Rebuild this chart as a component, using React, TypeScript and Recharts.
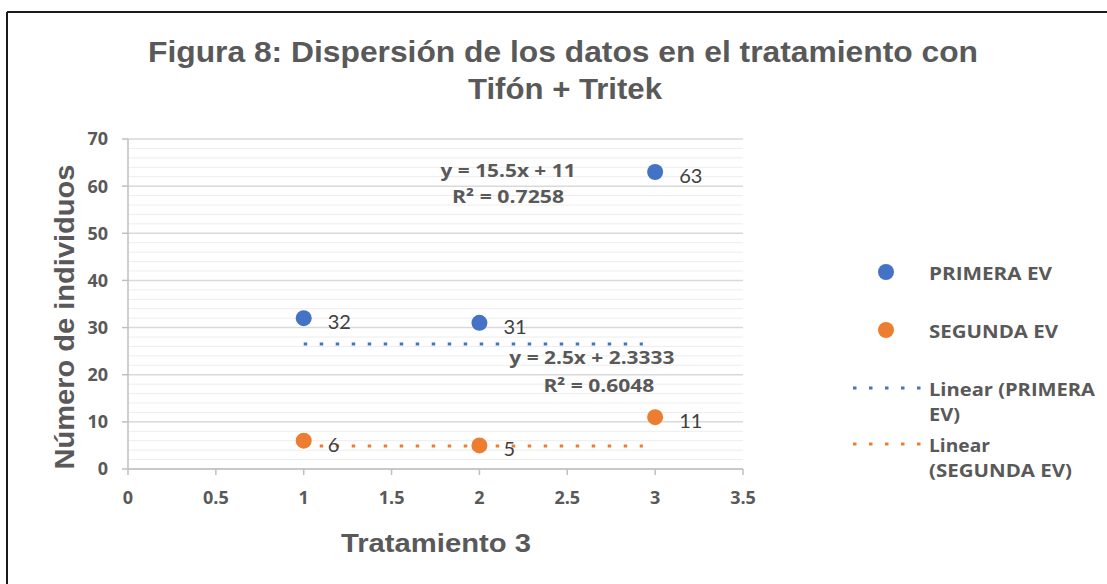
import React from "react";
import {
  ScatterChart,
  Scatter,
  XAxis,
  YAxis,
  CartesianGrid,
  ReferenceLine,
  LabelList,
} from "recharts";

const primera = [
  { x: 1, y: 32 },
  { x: 2, y: 31 },
  { x: 3, y: 63 },
];
const segunda = [
  { x: 1, y: 6 },
  { x: 2, y: 5 },
  { x: 3, y: 11 },
];
const trendPrimera = [
  { x: 1, y: 26.5 },
  { x: 2.93, y: 26.5 },
];
const trendSegunda = [
  { x: 1, y: 4.9 },
  { x: 2.93, y: 4.9 },
];
const equations = [
  { x: 2.163, y: 63.2, text: "y = 15.5x + 11", w: 135 },
  { x: 2.163, y: 57.6, text: "R² = 0.7258", w: 112 },
  { x: 2.64, y: 23.6, text: "y = 2.5x + 2.3333", w: 165 },
  { x: 2.68, y: 17.7, text: "R² = 0.6048", w: 111 },
];
const xTicks = [0, 0.5, 1, 1.5, 2, 2.5, 3, 3.5];
const yTicks = [0, 10, 20, 30, 40, 50, 60, 70];
const minorTicks = [2, 4, 6, 8, 12, 14, 16, 18, 22, 24, 26, 28, 32, 34, 36, 38, 42, 44, 46, 48, 52, 54, 56, 58, 62, 64, 66, 68];
const legendItems = [
  { kind: "dot", color: "#4472C4", lines: ["PRIMERA EV"], widths: [123], y: 272 },
  { kind: "dot", color: "#ED7D31", lines: ["SEGUNDA EV"], widths: [129], y: 330 },
  { kind: "line", color: "#4472C4", lines: ["Linear (PRIMERA", "EV)"], widths: [166, 31], y: 388 },
  { kind: "line", color: "#ED7D31", lines: ["Linear", "(SEGUNDA EV)"], widths: [61, 143], y: 444 },
];

const BLUE = "#4472C4";
const ORANGE = "#ED7D31";
const GREY = "#595959";
const CAL = "'Open Sans', Lato, sans-serif";
const ARIAL = "'Liberation Sans', Arial, sans-serif";

const Dot = (color: string) => (props: any) => (
  <circle cx={props.cx} cy={props.cy} r={8} fill={color} />
);
const NoShape = () => <g />;

const ValueLabel = (props: any) => {
  const { x, y, width, height, value } = props;
  const cx = x + (width || 0) / 2;
  const cy = y + (height || 0) / 2;
  return (
    <text x={cx + 24} y={cy + 11} fontFamily="Lato, sans-serif" fontSize={20} fill="#404040">
      {value}
    </text>
  );
};

const EqShape = (props: any) => (
  <text
    x={props.cx}
    y={props.cy + 6}
    textAnchor="middle"
    fontFamily={CAL}
    fontWeight="bold"
    fontSize={18}
    fill={GREY}
    textLength={props.payload.w}
    lengthAdjust="spacingAndGlyphs"
  >
    {props.payload.text}
  </text>
);

export default function App() {
  return (
    <div style={{ position: "absolute", left: 0, top: 0, width: 1107, height: 584, background: "#fff" }}>
      <ScatterChart
        width={1107}
        height={584}
        margin={{ top: 139, right: 364, bottom: 75, left: 68 }}
      >
        {minorTicks.map((t) => (
          <ReferenceLine key={t} y={t} stroke="#ededed" strokeWidth={1} ifOverflow="hidden" />
        ))}
        <CartesianGrid vertical={false} stroke="#d9d9d9" strokeWidth={1.5} />
        <XAxis
          type="number"
          dataKey="x"
          domain={[0, 3.5]}
          ticks={xTicks}
          height={40}
          tickSize={6}
          tickMargin={16}
          axisLine={{ stroke: "#bfbfbf", strokeWidth: 1.5 }}
          tickLine={{ stroke: "#bfbfbf", strokeWidth: 1.5 }}
          tick={{ fontFamily: CAL, fontWeight: "bold", fontSize: 18, fill: GREY }}
          allowDataOverflow
        />
        <YAxis
          type="number"
          dataKey="y"
          domain={[0, 70]}
          ticks={yTicks}
          width={60}
          tickSize={6}
          tickMargin={14}
          axisLine={{ stroke: "#bfbfbf", strokeWidth: 1.5 }}
          tickLine={{ stroke: "#bfbfbf", strokeWidth: 1.5 }}
          tick={{ fontFamily: CAL, fontWeight: "bold", fontSize: 18, fill: GREY }}
          allowDataOverflow
        />
        <Scatter
          data={trendPrimera}
          line={{ stroke: BLUE, strokeWidth: 3, strokeDasharray: "3.5 12.5" }}
          shape={NoShape}
          isAnimationActive={false}
        />
        <Scatter
          data={trendSegunda}
          line={{ stroke: ORANGE, strokeWidth: 3, strokeDasharray: "3.5 12.5" }}
          shape={NoShape}
          isAnimationActive={false}
        />
        <Scatter data={primera} shape={Dot(BLUE)} isAnimationActive={false}>
          <LabelList dataKey="y" content={ValueLabel} />
        </Scatter>
        <Scatter data={segunda} shape={Dot(ORANGE)} isAnimationActive={false}>
          <LabelList dataKey="y" content={ValueLabel} />
        </Scatter>
        <Scatter data={equations} shape={EqShape} isAnimationActive={false} />
      </ScatterChart>

      <svg
        width={1107}
        height={584}
        style={{ position: "absolute", left: 0, top: 0, pointerEvents: "none" }}
      >
        <line x1={7} y1={12} x2={1107} y2={12} stroke="#1a1a1a" strokeWidth={2} />
        <line x1={7} y1={12} x2={7} y2={584} stroke="#1a1a1a" strokeWidth={2} />
        <text x={563} y={62} textAnchor="middle" fontFamily={ARIAL} fontWeight="bold" fontSize={29} fill={GREY} textLength={830} lengthAdjust="spacingAndGlyphs">
          Figura 8: Dispersión de los datos en el tratamiento con
        </text>
        <text x={565} y={99} textAnchor="middle" fontFamily={ARIAL} fontWeight="bold" fontSize={29} fill={GREY} textLength={194} lengthAdjust="spacingAndGlyphs">
          Tifón + Tritek
        </text>
        <text
          transform="translate(74,317) rotate(-90)"
          textAnchor="middle"
          fontFamily={ARIAL}
          fontWeight="bold"
          fontSize={28}
          fill={GREY}
          textLength={305}
          lengthAdjust="spacingAndGlyphs"
        >
          Número de individuos
        </text>
        <text x={436} y={552} textAnchor="middle" fontFamily={ARIAL} fontWeight="bold" fontSize={26} fill={GREY} textLength={190} lengthAdjust="spacingAndGlyphs">
          Tratamiento 3
        </text>

        {legendItems.map((it, i) => (
          <g key={i}>
            {it.kind === "dot" ? (
              <circle cx={886} cy={it.y} r={8} fill={it.color} />
            ) : (
              <line x1={853} y1={it.y} x2={925} y2={it.y} stroke={it.color} strokeWidth={3} strokeDasharray="3.5 12.5" />
            )}
            {it.lines.map((ln, j) => (
              <text
                key={j}
                x={929}
                y={it.y + 8 + j * 25}
                fontFamily={CAL}
                fontWeight="bold"
                fontSize={18}
                fill={GREY}
                textLength={it.widths[j]}
                lengthAdjust="spacingAndGlyphs"
              >
                {ln}
              </text>
            ))}
          </g>
        ))}
      </svg>
    </div>
  );
}
